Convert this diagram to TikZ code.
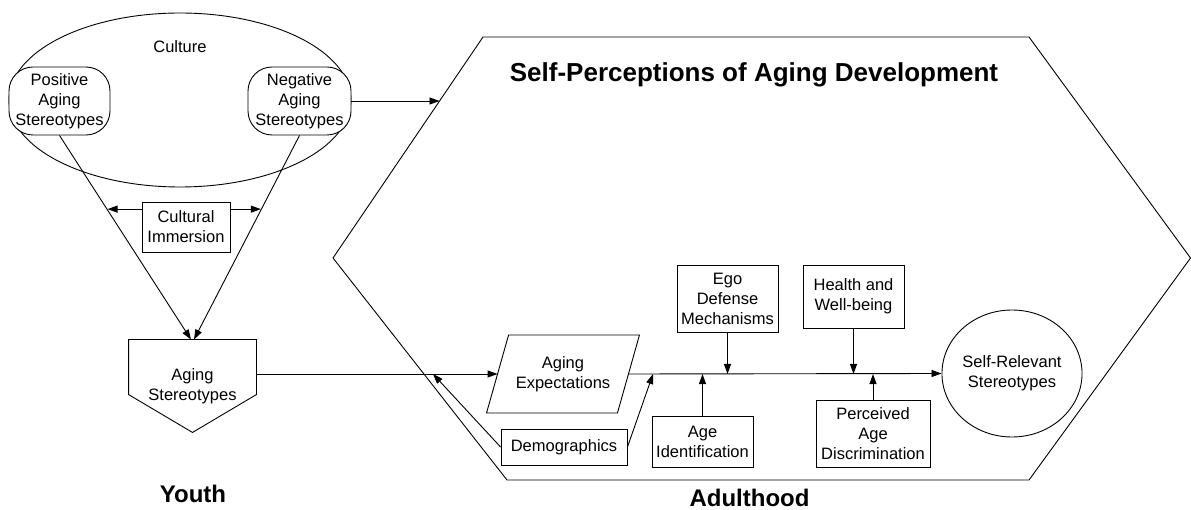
\documentclass[tikz,border=0pt]{standalone}
\usepackage{fontspec}
\setmainfont{Liberation Sans}
\usetikzlibrary{shapes.geometric,arrows.meta,calc}
\begin{document}
\begin{tikzpicture}[x=1pt,y=-1pt, line width=0.9pt,
  txt/.style={font=\fontsize{16.5}{20}\selectfont, align=center, inner sep=0pt},
  box/.style={txt, draw, rectangle},
  arr/.style={-{Triangle[length=10pt,width=7pt]}},
  biglabel/.style={font=\fontsize{24}{28}\selectfont\bfseries, anchor=base, inner sep=0pt}]
\useasboundingbox (0,0) rectangle (1191,510);

% hexagon
\coordinate (hTL) at (483,37);
\coordinate (hTR) at (1029,37);
\coordinate (hE) at (1190.5,258);
\coordinate (hBR) at (1029,480);
\coordinate (hBL) at (507,480);
\coordinate (hW) at (333,258);
\draw (hTL) -- (hTR) -- (hE) -- (hBR) -- (hBL) -- (hW) -- cycle;

% culture
\node[ellipse, draw, minimum width=342pt, minimum height=174pt, inner sep=0pt] (cul) at (180,100) {};
\node[txt, anchor=base] (culttxt) at (180,53) {Culture};
\node[box, rounded corners=24pt, minimum width=101pt, minimum height=68pt, fill=white] (pos) at (59.5,101) {Positive\\Aging\\Stereotypes};
\node[box, rounded corners=24pt, minimum width=103pt, minimum height=68pt, fill=white] (neg) at (299.5,101) {Negative\\Aging\\Stereotypes};

\node[box, minimum width=88pt, minimum height=50pt] (ci) at (186,227) {Cultural\\Immersion};

% aging stereotypes pentagon
\node[txt, minimum width=127pt, minimum height=92pt] (ast) at (192.5,386) {Aging\\Stereotypes};
\draw (ast.north west) -- (ast.north east) -- ($(ast.north east)+(0,55)$) -- (ast.south) -- ($(ast.north west)+(0,55)$) -- cycle;

\draw[arr] (pos.south) -- ($(ast.north)+(-1.5,0)$);
\draw[arr] (neg.south) -- ($(ast.north)+(1.5,0)$);
\coordinate (cpl) at ($(pos.south)!0.361!(ast.north)$);
\coordinate (cpr) at ($(neg.south)!0.361!(ast.north)$);
\draw[arr] (ci.west |- cpl) -- (cpl);
\draw[arr] (ci.east |- cpr) -- (cpr);

\coordinate (hhit) at ($(hTL)!0.29!(hW)$);
\draw[arr] (neg.east) -- (neg.east -| hhit);

% aging expectations
\node[txt, minimum width=130pt, minimum height=77pt] (exp) at (563,374) {Aging\\Expectations};
\draw ($(exp.north west)+(11,0)$) -- ($(exp.north east)+(11,0)$) -- ($(exp.south east)+(-11,0)$) -- ($(exp.south west)+(-11,0)$) -- cycle;
\draw[arr] (ast.east |- exp.west) -- (exp.west);

\node[box, minimum width=126pt, minimum height=36pt] (dem) at (564,447) {Demographics};
\coordinate (d1) at (433,374);
\coordinate (d2) at (653,374);
\draw[arr] (dem.west) -- (d1);
\draw[arr] (dem.east) -- (d2);

\node[ellipse, draw, txt, minimum width=140pt, minimum height=127pt] (srs) at (1012,373.5) {Self-Relevant\\Stereotypes};
\draw[arr] (exp.east) -- (srs.west);

\node[box, minimum width=101pt, minimum height=67pt] (ego) at (727.5,298.5) {Ego\\Defense\\Mechanisms};
\node[box, minimum width=101pt, minimum height=51pt] (aid) at (702.5,441.5) {Age\\Identification};
\node[box, minimum width=101pt, minimum height=63pt] (hw) at (853.5,296.5) {Health and\\Well-being};
\node[box, minimum width=114pt, minimum height=67pt] (pad) at (873,433.5) {Perceived\\Age\\Discrimination};
\draw[arr] (ego.south) -- (ego.south |- exp.east);
\draw[arr] (aid.north) -- (aid.north |- exp.east);
\draw[arr] (hw.south) -- (hw.south |- exp.east);
\draw[arr] (pad.north) -- (pad.north |- exp.east);

% labels
\node[font=\fontsize{26}{30}\selectfont\bfseries, anchor=base, inner sep=0pt] (title) at (754,82) {Self-Perceptions of Aging Development};
\node[biglabel] (youth) at (193,502) {Youth};
\node[biglabel] (adult) at (749.5,506) {Adulthood};
\end{tikzpicture}
\end{document}
